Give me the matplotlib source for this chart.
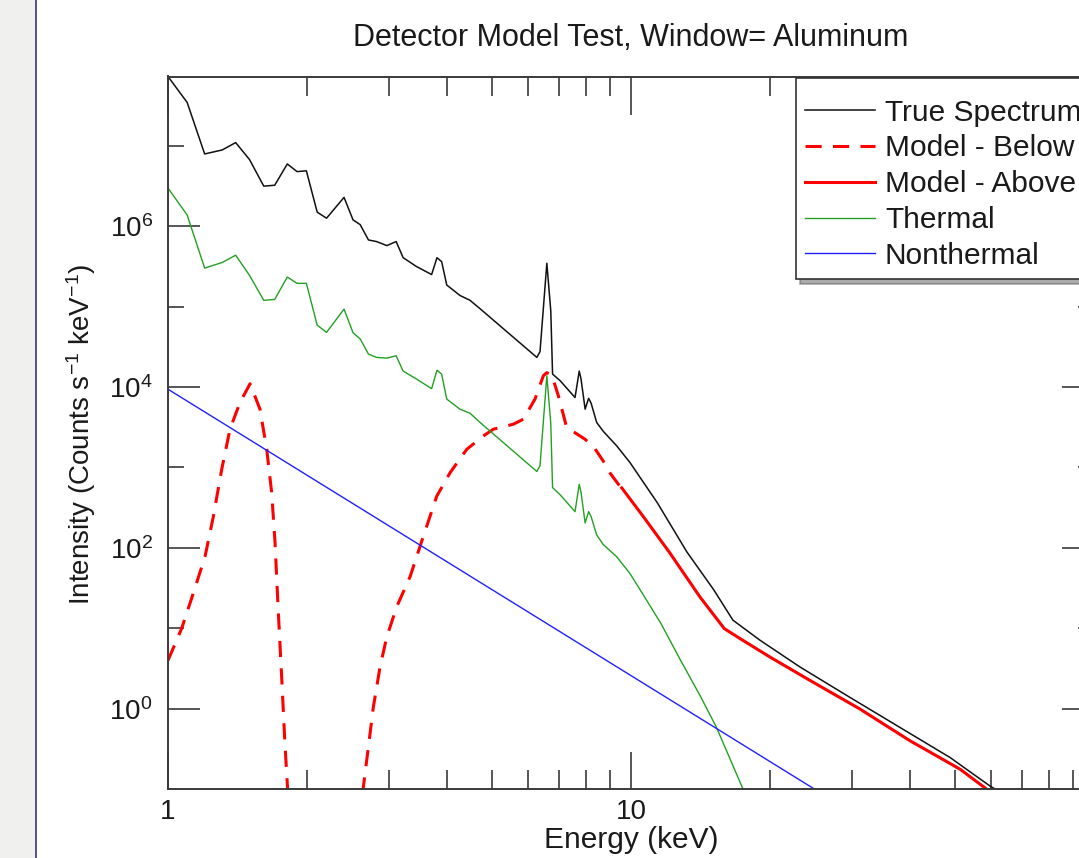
import matplotlib
matplotlib.use('Agg')
import matplotlib.pyplot as plt
from matplotlib.ticker import FixedLocator, FixedFormatter, NullFormatter
from matplotlib.patches import Rectangle
from matplotlib.lines import Line2D

plt.rcParams['font.family'] = ['Liberation Sans', 'DejaVu Sans']
plt.rcParams['mathtext.fontset'] = 'custom'
plt.rcParams['mathtext.rm'] = 'Liberation Sans'
plt.rcParams['mathtext.it'] = 'Liberation Sans:italic'
plt.rcParams['mathtext.bf'] = 'Liberation Sans:bold'
plt.rcParams['mathtext.default'] = 'regular'

# ---------------- data ----------------
true_energy = [1.00, 1.10, 1.20, 1.31, 1.40, 1.50, 1.61, 1.70, 1.81, 1.90, 1.99, 2.10,
               2.20, 2.40, 2.51, 2.60, 2.71, 2.82, 2.97, 3.11, 3.22, 3.44, 3.71, 3.81,
               3.90, 4.00, 4.27, 4.49, 4.72, 6.26, 6.36, 6.58, 6.71, 6.77, 7.03, 7.57,
               7.73, 7.80, 7.96, 8.10, 8.20, 8.43, 8.71, 9.31, 9.95, 11.4, 13.2, 15.1,
               16.6, 19.0, 23.2, 29.7, 38.1, 48.9, 59.6, 62.1, 66.0]
true_counts = [7.3e7, 3.47e7, 7.94e6, 8.91e6, 1.10e7, 6.76e6, 3.16e6, 3.24e6, 5.96e6,
               4.79e6, 4.90e6, 1.50e6, 1.26e6, 2.29e6, 1.20e6, 1.05e6, 6.76e5, 6.46e5,
               5.75e5, 6.46e5, 4.07e5, 3.16e5, 2.51e5, 4.07e5, 3.63e5, 1.86e5, 1.38e5,
               1.20e5, 9.44e4, 2.34e4, 2.75e4, 3.47e5, 8.9e4, 1.45e4, 1.20e4, 7.41e3,
               1.58e4, 1.26e4, 5.31e3, 7.24e3, 6.31e3, 3.63e3, 2.82e3, 1.86e3, 1.15e3,
               363, 89.1, 29.9, 12.6, 7.08, 3.28, 1.38, 0.583, 0.246, 0.109, 0.0944, 0.07]

thermal_energy = [1.00, 1.10, 1.20, 1.31, 1.40, 1.50, 1.61, 1.70, 1.81, 1.90, 1.99, 2.10,
                  2.20, 2.40, 2.51, 2.60, 2.71, 2.82, 2.97, 3.11, 3.22, 3.44, 3.71, 3.81,
                  3.90, 4.00, 4.27, 4.49, 4.72, 6.26, 6.36, 6.58, 6.71, 6.77, 7.03, 7.57,
                  7.73, 7.80, 7.96, 8.10, 8.20, 8.43, 8.71, 9.31, 9.95, 10.8, 11.6, 12.8,
                  14.1, 15.3, 17.5, 18.5]
thermal_counts = [2.99e6, 1.38e6, 3.02e5, 3.55e5, 4.37e5, 2.45e5, 1.20e5, 1.23e5, 2.34e5,
                  1.95e5, 1.95e5, 5.89e4, 4.79e4, 9.33e4, 4.73e4, 3.98e4, 2.57e4, 2.34e4,
                  2.29e4, 2.45e4, 1.58e4, 1.26e4, 9.55e3, 1.62e4, 1.45e4, 7.08e3, 5.31e3,
                  4.73e3, 3.63e3, 891, 1.05e3, 1.38e4, 3.55e3, 562, 457, 282, 617, 490,
                  204, 282, 245, 145, 110, 77.6, 47.9, 22.4, 11.5, 3.98, 1.45, 0.583,
                  0.0964, 0.0447]

nonthermal_energy = [1.0, 25.1]
nonthermal_counts = [9.4e3, 0.097]

below_energy = [1.00, 1.07, 1.134, 1.202, 1.253, 1.306, 1.361, 1.431, 1.504, 1.580, 1.634,
                1.675, 1.703, 1.730, 1.760, 1.789, 1.810, 1.84, 2.60, 2.641, 2.708, 2.776,
                2.870, 2.968, 3.119, 3.333, 3.559, 3.805, 4.066, 4.418, 4.797, 5.042,
                5.569, 5.853, 6.204, 6.466, 6.575, 6.743, 6.97, 7.26, 7.96, 8.32, 8.71,
                9.01, 9.45, 9.55]
below_counts = [3.98, 9.91, 27.2, 77.6, 245, 944, 2.99e3, 6.46e3, 1.10e4, 5.31e3, 1.68e3,
                479, 115, 16.8, 2.45, 0.363, 0.115, 0.0316, 0.0251, 0.104, 0.328, 1.04,
                3.28, 7.78, 18.5, 43.8, 138, 438, 859, 1.68e3, 2.46e3, 2.99e3, 3.45e3,
                3.98e3, 7.08e3, 1.38e4, 1.51e4, 1.41e4, 7.76e3, 3.16e3, 2.24e3, 1.78e3,
                1.20e3, 851, 589, 562]

above_energy = [9.55, 10.63, 12.14, 14.09, 15.9, 17.2, 19.96, 24.36, 31.2, 40.05, 51.4,
                58.7, 66.0]
above_counts = [557, 245, 85.9, 24.5, 9.91, 7.43, 4.38, 2.24, 0.991, 0.398, 0.176,
                0.0991, 0.05]

series_labels = ['True Spectrum', 'Model - Below', 'Model - Above', 'Thermal', 'Nonthermal']

x_major = [1, 10, 100]
x_major_labels = ['1', '10', '']
x_minor = [2, 3, 4, 5, 6, 7, 8, 9, 20, 30, 40, 50, 60, 70, 80, 90]
y_major = [1, 1e2, 1e4, 1e6]
y_major_labels = ['$10^{0}$', '$10^{2}$', '$10^{4}$', '$10^{6}$']
y_minor = [10, 1e3, 1e5, 1e7]

title = 'Detector Model Test, Window= Aluminum'
xlabel = 'Energy (keV)'
ylabel = 'Intensity (Counts s$^{-1}$ keV$^{-1}$)'

# ---------------- figure ----------------
W, H = 1079, 858
fig = plt.figure(figsize=(W / 100, H / 100), dpi=100)
fig.patch.set_facecolor('white')
fig.patches.append(Rectangle((0, 0), 35 / W, 1, transform=fig.transFigure,
                             facecolor='#f0f0ee', edgecolor='none', zorder=0))
fig.lines.append(Line2D([35.5 / W] * 2, [0, 1], transform=fig.transFigure,
                        color='#5a4d8c', lw=1.4, zorder=1))

ax = fig.add_axes([168 / W, 69 / H, 926 / W, 712.5 / H])
ax.set_xscale('log')
ax.set_yscale('log')

ax.plot(true_energy, true_counts, color='#111111', lw=1.1, label=series_labels[0])
ax.plot(below_energy, below_counts, color='#ff0000', lw=2.2, linestyle=(0, (5.3, 3.7)),
        label=series_labels[1])
ax.plot(above_energy, above_counts, color='#ff0000', lw=2.2, label=series_labels[2])
ax.plot(thermal_energy, thermal_counts, color='#22a022', lw=1.0, label=series_labels[3])
ax.plot(nonthermal_energy, nonthermal_counts, color='#2020ff', lw=1.0, label=series_labels[4])

ax.set_xlim(1, 100)
ax.set_ylim(0.1, 7.3e7)

ax.xaxis.set_major_locator(FixedLocator(x_major))
ax.xaxis.set_major_formatter(FixedFormatter(x_major_labels))
ax.xaxis.set_minor_locator(FixedLocator(x_minor))
ax.xaxis.set_minor_formatter(NullFormatter())
ax.yaxis.set_major_locator(FixedLocator(y_major))
ax.yaxis.set_major_formatter(FixedFormatter(y_major_labels))
ax.yaxis.set_minor_locator(FixedLocator(y_minor))
ax.yaxis.set_minor_formatter(NullFormatter())

tick_col = '#3a3a3a'
for sp in ax.spines.values():
    sp.set_color(tick_col)
    sp.set_linewidth(1.4)
ax.tick_params(axis='both', which='both', direction='in', top=True, right=True,
               color=tick_col, width=1.2, labelcolor='#1a1a1a', labelsize=20)
ax.tick_params(axis='x', which='major', length=27, pad=7)
ax.tick_params(axis='x', which='minor', length=13.5)
ax.tick_params(axis='y', which='major', length=23, pad=11)
ax.tick_params(axis='y', which='minor', length=11.5)

fig.text(631 / W, 1 - 38 / H, title, ha='center', va='center', fontsize=22, color='#1a1a1a')
fig.text(631 / W, 1 - 840 / H, xlabel, ha='center', va='center', fontsize=21.5, color='#1a1a1a')
fig.text(81 / W, 1 - 434 / H, ylabel, ha='center', va='center', rotation=90,
         fontsize=20, color='#1a1a1a')

leg = ax.legend(loc='upper left', bbox_to_anchor=(796 / W, 1 - 78 / H),
                bbox_transform=fig.transFigure, fontsize=21.5, frameon=True,
                fancybox=False, shadow={'ox': 3, 'oy': -3.5, 'color': '0.35', 'alpha': 0.5},
                edgecolor='#333333', handlelength=2.35, handletextpad=0.33,
                borderpad=0.3, labelspacing=0.26, borderaxespad=0,
                title=' ', title_fontsize=3)
leg.get_frame().set_linewidth(1.2)
leg.get_frame().set_alpha(1.0)
for t in leg.get_texts():
    t.set_color('#1a1a1a')

fig.savefig('out.png', dpi=100, facecolor=fig.get_facecolor())
